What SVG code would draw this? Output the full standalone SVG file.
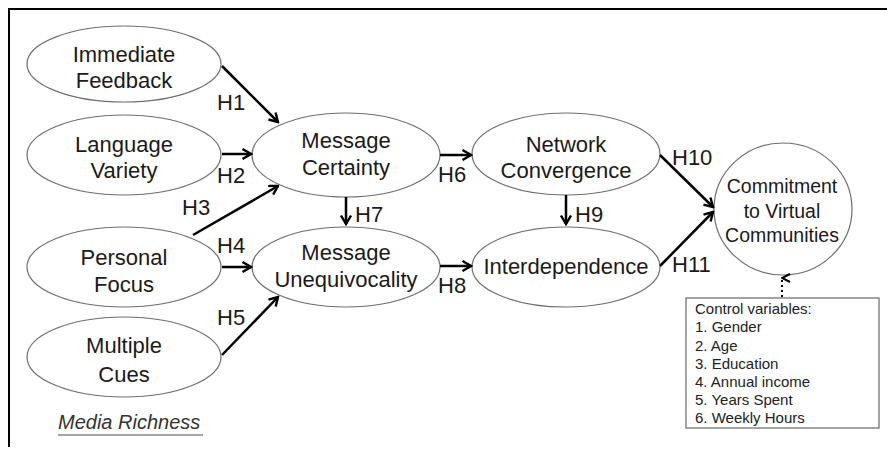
<svg xmlns="http://www.w3.org/2000/svg" width="887" height="450" viewBox="0 0 887 450">
<style>
.node ellipse{fill:#fff;stroke:#6e6e6e;stroke-width:1.2}
.t{font-family:"Liberation Sans",Arial,sans-serif;font-size:22px;fill:#1a1a1a;text-anchor:middle}
.h{font-family:"Liberation Sans",Arial,sans-serif;font-size:22px;fill:#1a1a1a}
.c{font-family:"Liberation Sans",Arial,sans-serif;font-size:15px;fill:#222}
.ct{font-family:"Liberation Sans",Arial,sans-serif;font-size:19.5px;fill:#1a1a1a;text-anchor:middle}
.edge{stroke:#000;stroke-width:2.5;fill:none;marker-end:url(#ah)}
</style>
<defs>
<marker id="ah" viewBox="0 0 12 12" refX="10.5" refY="6" markerWidth="12" markerHeight="12" markerUnits="userSpaceOnUse" orient="auto">
<path d="M2,1 L10.5,6 L2,11" fill="none" stroke="#000" stroke-width="2.4"/>
</marker>
<marker id="ah2" viewBox="0 0 10 10" refX="5" refY="1" markerWidth="10" markerHeight="10" markerUnits="userSpaceOnUse" orient="auto-start-reverse">
<path d="M1,9 L5,1 L9,9" fill="none" stroke="#000" stroke-width="2"/>
</marker>
</defs>
<rect width="887" height="450" fill="#fff"/>
<path d="M9,447 V9 H887" fill="none" stroke="#000" stroke-width="2"/>

<g id="immediate-feedback" class="node"><ellipse cx="124" cy="64" rx="97" ry="38"/><text class="t" x="124" y="62">Immediate</text><text class="t" x="124" y="88">Feedback</text></g>
<g id="language-variety" class="node"><ellipse cx="124" cy="155" rx="97" ry="40"/><text class="t" x="124" y="152">Language</text><text class="t" x="124" y="178">Variety</text></g>
<g id="personal-focus" class="node"><ellipse cx="124" cy="267" rx="97" ry="40"/><text class="t" x="124" y="265">Personal</text><text class="t" x="124" y="292">Focus</text></g>
<g id="multiple-cues" class="node"><ellipse cx="124" cy="357" rx="97" ry="40"/><text class="t" x="124" y="353">Multiple</text><text class="t" x="124" y="382">Cues</text></g>
<g id="message-certainty" class="node"><ellipse cx="346" cy="155" rx="94" ry="42"/><text class="t" x="346" y="148">Message</text><text class="t" x="346" y="175">Certainty</text></g>
<g id="message-unequivocality" class="node"><ellipse cx="346" cy="267" rx="94" ry="40"/><text class="t" x="346" y="260">Message</text><text class="t" x="346" y="287">Unequivocality</text></g>
<g id="network-convergence" class="node"><ellipse cx="566" cy="154" rx="94" ry="41"/><text class="t" x="566" y="152">Network</text><text class="t" x="566" y="178">Convergence</text></g>
<g id="interdependence" class="node"><ellipse cx="566" cy="267" rx="94" ry="40"/><text class="t" x="566" y="274">Interdependence</text></g>
<g id="commitment" class="node"><ellipse cx="783" cy="209" rx="69" ry="66"/><text class="ct" x="782" y="193">Commitment</text><text class="ct" x="782" y="218">to Virtual</text><text class="ct" x="782" y="242">Communities</text></g>
<g id="control-variables"><rect x="686" y="298" width="193" height="130" fill="#fff" stroke="#666" stroke-width="1.2"/>
<text class="c" x="695" y="314">Control variables:</text>
<text class="c" x="695" y="332">1. Gender</text>
<text class="c" x="695" y="351">2. Age</text>
<text class="c" x="695" y="369">3. Education</text>
<text class="c" x="695" y="387">4. Annual income</text>
<text class="c" x="695" y="405">5. Years Spent</text>
<text class="c" x="695" y="423">6. Weekly Hours</text>
</g>
<g id="media-richness"><text x="58" y="429" font-family="Liberation Sans, Arial, sans-serif" font-size="20" font-style="italic" fill="#333">Media Richness</text><line x1="58" y1="435" x2="203" y2="435" stroke="#888" stroke-width="1.3"/></g>

<g id="connectors">
<line class="edge" x1="222" y1="66" x2="278" y2="122"/>
<line class="edge" x1="222" y1="154" x2="251" y2="154"/>
<line class="edge" x1="193" y1="235" x2="278" y2="186"/>
<line class="edge" x1="222" y1="267" x2="251" y2="267"/>
<line class="edge" x1="222" y1="355" x2="278" y2="297"/>
<line class="edge" x1="440" y1="155" x2="471" y2="155"/>
<line class="edge" x1="346" y1="197" x2="346" y2="224"/>
<line class="edge" x1="440" y1="266" x2="471" y2="266"/>
<line class="edge" x1="566" y1="195" x2="566" y2="224"/>
<line class="edge" x1="660" y1="155" x2="713" y2="207"/>
<line class="edge" x1="660" y1="266" x2="713" y2="212"/>
<line x1="782" y1="297" x2="782" y2="278" stroke="#000" stroke-width="2" stroke-dasharray="2,3" marker-end="url(#ah2)"/>
<text class="h" x="217" y="110">H1</text>
<text class="h" x="217" y="183">H2</text>
<text class="h" x="182" y="215">H3</text>
<text class="h" x="217" y="253">H4</text>
<text class="h" x="217" y="325">H5</text>
<text class="h" x="438" y="182">H6</text>
<text class="h" x="355" y="222">H7</text>
<text class="h" x="438" y="293">H8</text>
<text class="h" x="575" y="222">H9</text>
<text class="h" x="672" y="165">H10</text>
<text class="h" x="672" y="272">H11</text>
</g>
</svg>
